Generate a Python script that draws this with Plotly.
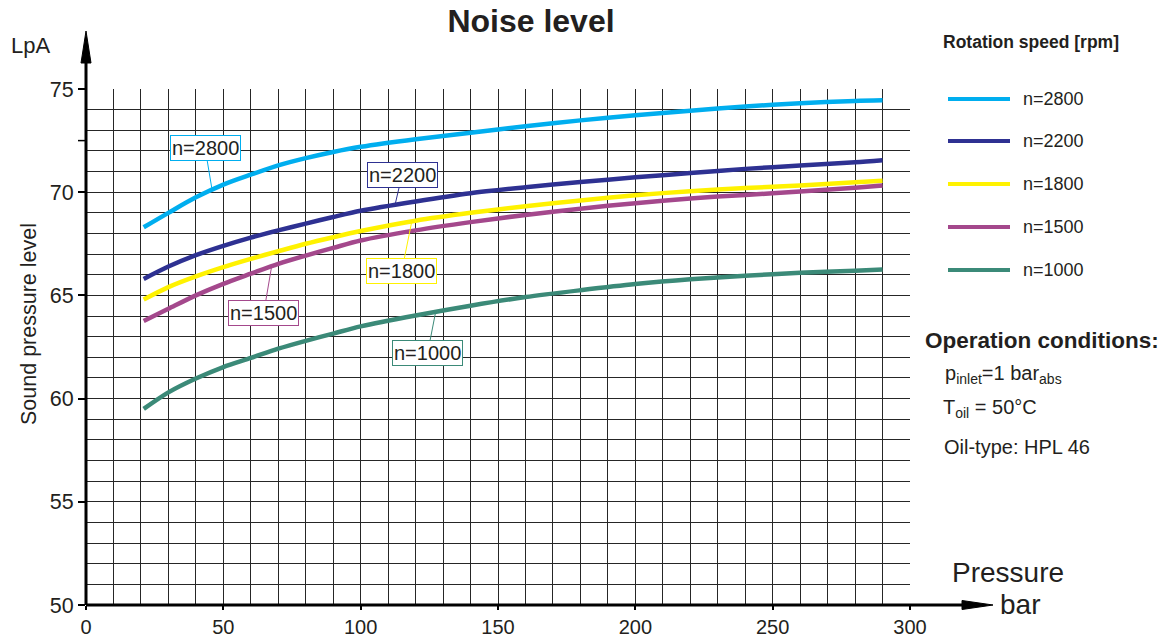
import plotly.graph_objects as go
import numpy as np

# ---------------- data ----------------
pressure = [21, 30, 40, 50, 60, 70, 80, 90, 100, 120, 140, 160, 180, 200, 220, 240, 260, 280, 290]
lpa_2800 = [68.3, 69.0, 69.75, 70.37, 70.85, 71.3, 71.65, 71.95, 72.2, 72.57, 72.88, 73.2, 73.48, 73.73, 73.95, 74.15, 74.31, 74.42, 74.45]
lpa_2200 = [65.8, 66.4, 66.95, 67.4, 67.8, 68.15, 68.48, 68.8, 69.1, 69.55, 69.95, 70.24, 70.49, 70.72, 70.93, 71.13, 71.29, 71.45, 71.55]
lpa_1800 = [64.8, 65.4, 65.92, 66.37, 66.77, 67.14, 67.5, 67.82, 68.12, 68.62, 69.0, 69.32, 69.6, 69.85, 70.05, 70.2, 70.33, 70.48, 70.56]
lpa_1500 = [63.76, 64.35, 65.0, 65.56, 66.05, 66.53, 66.93, 67.3, 67.66, 68.15, 68.55, 68.9, 69.2, 69.47, 69.7, 69.87, 70.03, 70.22, 70.32]
lpa_1000 = [59.5, 60.3, 60.97, 61.53, 61.97, 62.42, 62.8, 63.15, 63.5, 64.03, 64.5, 64.92, 65.25, 65.55, 65.78, 65.95, 66.1, 66.2, 66.26]

series_names = ["n=2800", "n=2200", "n=1800", "n=1500", "n=1000"]
series_values = [lpa_2800, lpa_2200, lpa_1800, lpa_1500, lpa_1000]
series_colors = ["#00AEEF", "#2E3192", "#FFF200", "#A4488C", "#3B8A78"]

# pressure where each curve label points to the curve
label_pressure = [45.9, 112.5, 118.6, 67.6, 127.3]
label_offset = [(-7, -42), (7, -30), (-10, 50), (-8, 47), (-8, 41)]

x_ticks = [0, 50, 100, 150, 200, 250, 300]
y_ticks = [50, 55, 60, 65, 70, 75]

TXT = "#231F20"
FONT = "Liberation Sans, Arial, sans-serif"

# plot-area geometry (pixels)
L, T, W, H = 86, 89, 824, 516


def px(xp):
    return (xp - L) / W


def py(yp):
    return (T + H - yp) / H


fig = go.Figure()

for name, vals, col in zip(series_names, series_values, series_colors):
    fig.add_trace(go.Scatter(x=pressure, y=vals, mode="lines", name=name,
                             line=dict(color=col, width=4.5, shape="spline", smoothing=0.8),
                             showlegend=False, hoverinfo="x+y+name"))

# curve labels
for name, vals, col, lp, (ax, ay) in zip(series_names, series_values, series_colors,
                                          label_pressure, label_offset):
    fig.add_annotation(x=lp, y=float(np.interp(lp, pressure, vals)), xref="x", yref="y",
                       text=name, showarrow=True, arrowhead=0, arrowwidth=1,
                       arrowcolor=col, ax=ax, ay=ay, standoff=0,
                       bordercolor=col, borderwidth=1, borderpad=1, bgcolor="white",
                       font=dict(family=FONT, size=20, color=TXT))

shapes = []
# axis arrows
shapes.append(dict(type="line", xref="paper", yref="paper", x0=0, x1=0, y0=0, y1=py(60),
                   line=dict(color="black", width=3)))
shapes.append(dict(type="path", xref="paper", yref="paper",
                   path=f"M {px(86)},{py(31)} L {px(81)},{py(63)} L {px(91)},{py(63)} Z",
                   fillcolor="black", line=dict(color="black", width=1)))
shapes.append(dict(type="line", xref="paper", yref="paper", x0=0, x1=px(965), y0=0, y1=0,
                   line=dict(color="black", width=3)))
shapes.append(dict(type="path", xref="paper", yref="paper",
                   path=f"M {px(993)},{py(605)} L {px(962)},{py(600.5)} L {px(962)},{py(609.5)} Z",
                   fillcolor="black", line=dict(color="black", width=1)))
# small minor tick on the y axis at 72.5
shapes.append(dict(type="line", xref="paper", yref="y", x0=px(78), x1=0, y0=72.5, y1=72.5,
                   line=dict(color="black", width=1.5)))

# manual legend
leg_y = [99, 141, 184, 227, 270]
for name, col, yy in zip(series_names, series_colors, leg_y):
    shapes.append(dict(type="line", xref="paper", yref="paper", x0=px(948), x1=px(1010),
                       y0=py(yy), y1=py(yy), line=dict(color=col, width=4)))
    fig.add_annotation(x=px(1021), y=py(yy), xref="paper", yref="paper", text=name,
                       showarrow=False, xanchor="left", yanchor="middle",
                       font=dict(family=FONT, size=18, color=TXT))

fig.add_annotation(x=px(1031), y=py(42), xref="paper", yref="paper",
                   text="<b>Rotation speed [rpm]</b>", showarrow=False,
                   xanchor="center", yanchor="middle", font=dict(family=FONT, size=17.5, color=TXT))

# operation conditions
fig.add_annotation(x=px(923), y=py(340), xref="paper", yref="paper",
                   text="<b>Operation conditions:</b>", showarrow=False,
                   xanchor="left", yanchor="middle", font=dict(family=FONT, size=22.5, color=TXT))
fig.add_annotation(x=px(943), y=py(374), xref="paper", yref="paper",
                   text="p<sub>inlet</sub>=1 bar<sub>abs</sub>", showarrow=False,
                   xanchor="left", yanchor="middle", font=dict(family=FONT, size=20, color=TXT))
fig.add_annotation(x=px(941), y=py(408), xref="paper", yref="paper",
                   text="T<sub>oil</sub> = 50°C", showarrow=False,
                   xanchor="left", yanchor="middle", font=dict(family=FONT, size=20, color=TXT))
fig.add_annotation(x=px(942), y=py(447), xref="paper", yref="paper",
                   text="Oil-type: HPL 46", showarrow=False,
                   xanchor="left", yanchor="middle", font=dict(family=FONT, size=20, color=TXT))

# axis titles
fig.add_annotation(x=px(30), y=py(45), xref="paper", yref="paper", text="LpA",
                   showarrow=False, xanchor="center", yanchor="middle",
                   font=dict(family=FONT, size=22, color=TXT))
fig.add_annotation(x=px(29), y=py(324), xref="paper", yref="paper", text="Sound pressure level",
                   showarrow=False, textangle=-90, xanchor="center", yanchor="middle",
                   font=dict(family=FONT, size=21.5, color=TXT))
fig.add_annotation(x=px(1008), y=py(572), xref="paper", yref="paper", text="Pressure",
                   showarrow=False, xanchor="center", yanchor="middle",
                   font=dict(family=FONT, size=28, color=TXT))
fig.add_annotation(x=px(1020), y=py(604), xref="paper", yref="paper", text="bar",
                   showarrow=False, xanchor="center", yanchor="middle",
                   font=dict(family=FONT, size=28, color=TXT))

GRID = "#262626"
fig.update_layout(
    width=1166, height=639,
    margin=dict(l=L, r=1166 - L - W, t=T, b=639 - T - H, autoexpand=False),
    paper_bgcolor="white", plot_bgcolor="white",
    title=dict(text="<b>Noise level</b>", x=531 / 1166, xref="container", xanchor="center",
               y=1 - 21 / 639, yref="container", yanchor="middle",
               font=dict(family=FONT, size=32, color=TXT)),
    shapes=shapes,
    xaxis=dict(range=[0, 300], tickvals=x_ticks, showgrid=True, gridcolor=GRID, gridwidth=1.4,
               minor=dict(dtick=10, tick0=0, showgrid=True, gridcolor=GRID, gridwidth=1.4),
               ticks="outside", ticklen=4, tickwidth=2, tickcolor="black",
               showline=False, zeroline=False, automargin=False,
               tickfont=dict(family=FONT, size=20, color=TXT)),
    yaxis=dict(range=[50, 75], tickvals=y_ticks, showgrid=True, gridcolor=GRID, gridwidth=1.4,
               minor=dict(dtick=1, tick0=50, showgrid=True, gridcolor=GRID, gridwidth=1.4),
               ticks="outside", ticklen=7, tickwidth=2, tickcolor="black",
               showline=False, zeroline=False, automargin=False,
               tickfont=dict(family=FONT, size=21.5, color=TXT)),
)

fig.write_html("out.html", config={"displayModeBar": False},
               post_script="document.body.style.margin='0px';")
